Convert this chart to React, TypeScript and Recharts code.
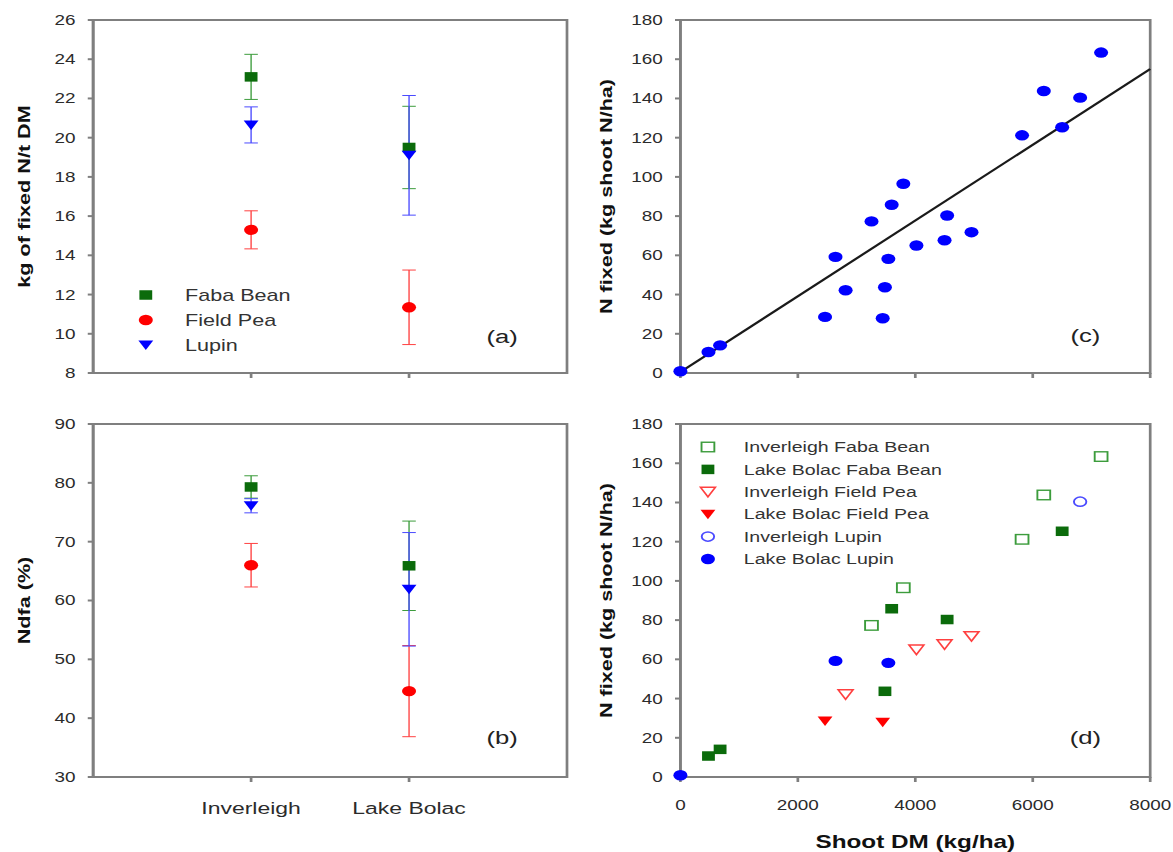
import React from 'react';
import { ScatterChart, Scatter, XAxis, YAxis, ErrorBar, ReferenceArea } from 'recharts';

// the original figure is stretched horizontally, so every panel is drawn narrow and scaled in x
const S = 1.35;
const FONT = '"Liberation Sans", Arial, sans-serif';
const AXIS = '#7f7f7f';
const TXT = '#2b2b2b';
const GREEN = '#0b6b0b';
const GREEN_LIGHT = '#3c9c3c';
const RED = '#ff0000';
const RED_LIGHT = '#ff4040';
const BLUE = '#0000ff';
const BLUE_LIGHT = '#4a4aff';

// sites on the x axis of (a) and (b)
const sites = ['Inverleigh', 'Lake Bolac'];
const siteX = [1, 2];

// (a) kg of fixed N / t DM (mean, error)
const fabaNperT = [23.1, 19.5];
const fabaNperTErr = [1.15, 2.1];
const peaNperT = [15.3, 11.35];
const peaNperTErr = [0.97, 1.9];
const lupinNperT = [20.65, 19.1];
const lupinNperTErr = [0.92, 3.05];

// (b) Ndfa % (mean, error)
const fabaNdfa = [79.3, 65.9];
const fabaNdfaErr = [1.9, 7.6];
const peaNdfa = [66.0, 44.6];
const peaNdfaErr = [3.7, 7.75];
const lupinNdfa = [76.1, 61.9];
const lupinNdfaErr = [1.2, 9.65];

// (c) and (d) shoot DM (kg/ha) vs N fixed (kg shoot N/ha)
const invFabaDM = [7164, 6188, 5818, 3796, 3254];
const invFabaN = [163.4, 143.8, 121.2, 96.5, 77.3];
const lbFabaDM = [6501, 4542, 3598, 3483, 676, 478];
const lbFabaN = [125.3, 80.3, 85.8, 43.7, 14.1, 10.7];
const invPeaDM = [4957, 4498, 4019, 2813];
const invPeaN = [71.8, 67.7, 65.0, 42.2];
const lbPeaDM = [2463, 3445];
const lbPeaN = [28.6, 27.9];
const invLupinDM = [6807];
const invLupinN = [140.4];
const lbLupinDM = [2641, 3541, 0];
const lbLupinN = [59.2, 58.2, 0.9];

// regression line in (c), end points
const fitDM = [0, 8000];
const fitN = [0.5, 155];

const ticksA = [8, 10, 12, 14, 16, 18, 20, 22, 24, 26];
const ticksB = [30, 40, 50, 60, 70, 80, 90];
const ticksN = [0, 20, 40, 60, 80, 100, 120, 140, 160, 180];
const ticksDM = [0, 2000, 4000, 6000, 8000];

const siteRows = (vals: number[], errs: number[]) =>
  vals.map((v, i) => ({ x: siteX[i], y: v, err: errs[i] }));
const xyRows = (xs: number[], ys: number[]) => xs.map((x, i) => ({ x, y: ys[i] }));

type Kind = 'square' | 'circle' | 'triangle';

const Mark = ({ cx, cy, kind, color, open }: { cx: number; cy: number; kind: Kind; color: string; open?: boolean }) => {
  const fill = open ? '#ffffff' : color;
  const sw = open ? 1.4 : 0;
  if (kind === 'square') return <rect x={cx - 4.75} y={cy - 4.75} width={9.5} height={9.5} fill={fill} stroke={color} strokeWidth={sw} />;
  if (kind === 'circle') return <circle cx={cx} cy={cy} r={open ? 4.6 : 5.2} fill={fill} stroke={color} strokeWidth={sw} />;
  return <polygon points={`${cx - 5.5},${cy - 4.5} ${cx + 5.5},${cy - 4.5} ${cx},${cy + 5}`} fill={fill} stroke={color} strokeWidth={sw} />;
};

const shapeOf = (kind: Kind, color: string, open?: boolean) => (p: any) =>
  <Mark cx={p.cx} cy={p.cy} kind={kind} color={color} open={open} />;

const yTitle = (text: string, dx: number) => (p: any) => {
  const vb = p.viewBox;
  const cx = vb.x + dx;
  const cy = vb.y + vb.height / 2;
  return (
    <text transform={`translate(${cx},${cy}) rotate(-90) scale(${S},${1 / S})`} textAnchor="middle" dominantBaseline="central"
      fontFamily={FONT} fontWeight="bold" fontSize={16} fill="#111">{text}</text>
  );
};

const xTitle = (text: string, dy: number) => (p: any) => {
  const vb = p.viewBox;
  return (
    <text x={vb.x + vb.width / 2} y={vb.y + dy} textAnchor="middle" fontFamily={FONT} fontWeight="bold" fontSize={18} fill="#111">{text}</text>
  );
};

const legendA = [
  { name: 'Faba Bean', kind: 'square' as Kind, color: GREEN, open: false },
  { name: 'Field Pea', kind: 'circle' as Kind, color: RED, open: false },
  { name: 'Lupin', kind: 'triangle' as Kind, color: BLUE, open: false },
];

const legendD = [
  { name: 'Inverleigh Faba Bean', kind: 'square' as Kind, color: GREEN_LIGHT, open: true },
  { name: 'Lake Bolac Faba Bean', kind: 'square' as Kind, color: GREEN, open: false },
  { name: 'Inverleigh Field Pea', kind: 'triangle' as Kind, color: RED_LIGHT, open: true },
  { name: 'Lake Bolac Field Pea', kind: 'triangle' as Kind, color: RED, open: false },
  { name: 'Inverleigh Lupin', kind: 'circle' as Kind, color: BLUE_LIGHT, open: true },
  { name: 'Lake Bolac Lupin', kind: 'circle' as Kind, color: BLUE, open: false },
];

const LegendBox = ({ items, x, tx, y0, step, fontSize }: any) => (
  <g>
    {items.map((it: any, i: number) => (
      <g key={it.name}>
        <Mark cx={x} cy={y0 + i * step} kind={it.kind} color={it.color} open={it.open} />
        <text x={tx} y={y0 + i * step + fontSize * 0.36} fontFamily={FONT} fontSize={fontSize} fill="#333">{it.name}</text>
      </g>
    ))}
  </g>
);

const Tag = ({ x, y, label }: { x: number; y: number; label: string }) => (
  <text x={x} y={y} textAnchor="middle" fontFamily={FONT} fontSize={19} fill="#222">{label}</text>
);

const tickStyle = { fill: TXT, fontSize: 14, fontFamily: FONT };

const SiteChart = ({ h, top, domain, ticks, title, tag, names, data }: any) => (
  <ScatterChart width={440} height={h} margin={{ top, right: 20, bottom: 0, left: 9 }}>
    <XAxis type="number" dataKey="x" domain={[0, 3]} ticks={siteX} stroke={AXIS} strokeWidth={2} tickSize={5} tickMargin={20}
      height={h - top - 353} tick={{ ...tickStyle, fontSize: 17 }}
      tickFormatter={(v: number) => (names ? sites[siteX.indexOf(v)] : '')} />
    <YAxis type="number" dataKey="y" domain={domain} ticks={ticks} stroke={AXIS} strokeWidth={2} tickSize={4} tickMargin={9}
      width={60} tick={tickStyle} interval={0} label={yTitle(title, 8.8)} />
    <ReferenceArea x1={0} x2={3} y1={domain[0]} y2={domain[1]} fill="none" stroke={AXIS} strokeWidth={2} ifOverflow="visible" />
    <Scatter data={data.faba} shape={shapeOf('square', GREEN)} isAnimationActive={false}>
      <ErrorBar dataKey="err" direction="y" width={5} stroke={GREEN_LIGHT} strokeWidth={1} />
    </Scatter>
    <Scatter data={data.pea} shape={shapeOf('circle', RED)} isAnimationActive={false}>
      <ErrorBar dataKey="err" direction="y" width={5} stroke={RED_LIGHT} strokeWidth={1} />
    </Scatter>
    <Scatter data={data.lupin} shape={shapeOf('triangle', BLUE)} isAnimationActive={false}>
      <ErrorBar dataKey="err" direction="y" width={5} stroke={BLUE_LIGHT} strokeWidth={1} />
    </Scatter>
    {names ? null : <LegendBox items={legendA} x={108} tx={137} y0={295} step={25} fontSize={16} />}
    <Tag x={372} y={tag} label={names ? '(b)' : '(a)'} />
  </ScatterChart>
);

export default function App() {
  const dataA = {
    faba: siteRows(fabaNperT, fabaNperTErr),
    pea: siteRows(peaNperT, peaNperTErr),
    lupin: siteRows(lupinNperT, lupinNperTErr),
  };
  const dataB = {
    faba: siteRows(fabaNdfa, fabaNdfaErr),
    pea: siteRows(peaNdfa, peaNdfaErr),
    lupin: siteRows(lupinNdfa, lupinNdfaErr),
  };
  const invFaba = xyRows(invFabaDM, invFabaN);
  const lbFaba = xyRows(lbFabaDM, lbFabaN);
  const invPea = xyRows(invPeaDM, invPeaN);
  const lbPea = xyRows(lbPeaDM, lbPeaN);
  const invLupin = xyRows(invLupinDM, invLupinN);
  const lbLupin = xyRows(lbLupinDM, lbLupinN);
  const allPoints = [...invFaba, ...lbFaba, ...invPea, ...lbPea, ...invLupin, ...lbLupin];
  const fit = xyRows(fitDM, fitN);

  return (
    <div style={{ position: 'absolute', left: 0, top: 0, width: 1173 / S, height: 852, transform: `scaleX(${S})`, transformOrigin: '0 0', background: '#fff' }}>
      <div style={{ position: 'absolute', left: 0, top: 0 }}>
        <SiteChart h={400} top={20} domain={[8, 26]} ticks={ticksA} title="kg of fixed N/t DM" tag={343} names={false} data={dataA} />
      </div>
      <div style={{ position: 'absolute', left: 0, top: 400 }}>
        <SiteChart h={452} top={24} domain={[30, 90]} ticks={ticksB} title="Ndfa (%)" tag={344} names={true} data={dataB} />
      </div>

      <div style={{ position: 'absolute', left: 440, top: 0 }}>
        <ScatterChart width={428} height={400} margin={{ top: 20, right: 16, bottom: 0, left: 4 }}>
          <XAxis type="number" dataKey="x" domain={[0, 8000]} ticks={ticksDM} stroke={AXIS} strokeWidth={2} tickSize={5}
            height={27} tick={tickStyle} tickFormatter={() => ''} />
          <YAxis type="number" dataKey="y" domain={[0, 180]} ticks={ticksN} stroke={AXIS} strokeWidth={2} tickSize={4} tickMargin={9}
            width={60} tick={tickStyle} interval={0} label={yTitle('N fixed (kg shoot N/ha)', 5.6)} />
          <ReferenceArea x1={0} x2={8000} y1={0} y2={180} fill="none" stroke={AXIS} strokeWidth={2} ifOverflow="visible" />
          <Scatter data={fit} line={{ stroke: '#1a1a1a', strokeWidth: 2 }} shape={() => <g />} isAnimationActive={false} />
          <Scatter data={allPoints} shape={shapeOf('circle', BLUE)} isAnimationActive={false} />
          <Tag x={364} y={342} label="(c)" />
        </ScatterChart>
      </div>

      <div style={{ position: 'absolute', left: 440, top: 400 }}>
        <ScatterChart width={428} height={452} margin={{ top: 24, right: 16, bottom: 0, left: 4 }}>
          <XAxis type="number" dataKey="x" domain={[0, 8000]} ticks={ticksDM} stroke={AXIS} strokeWidth={2} tickSize={5} tickMargin={18}
            height={75} tick={tickStyle} label={xTitle('Shoot DM (kg/ha)', 71.5)} />
          <YAxis type="number" dataKey="y" domain={[0, 180]} ticks={ticksN} stroke={AXIS} strokeWidth={2} tickSize={4} tickMargin={9}
            width={60} tick={tickStyle} interval={0} label={yTitle('N fixed (kg shoot N/ha)', 5.6)} />
          <ReferenceArea x1={0} x2={8000} y1={0} y2={180} fill="none" stroke={AXIS} strokeWidth={2} ifOverflow="visible" />
          <Scatter data={invFaba} shape={shapeOf('square', GREEN_LIGHT, true)} isAnimationActive={false} />
          <Scatter data={lbFaba} shape={shapeOf('square', GREEN)} isAnimationActive={false} />
          <Scatter data={invPea} shape={shapeOf('triangle', RED_LIGHT, true)} isAnimationActive={false} />
          <Scatter data={lbPea} shape={shapeOf('triangle', RED)} isAnimationActive={false} />
          <Scatter data={invLupin} shape={shapeOf('circle', BLUE_LIGHT, true)} isAnimationActive={false} />
          <Scatter data={lbLupin} shape={shapeOf('circle', BLUE)} isAnimationActive={false} />
          <LegendBox items={legendD} x={84.4} tx={111} y0={47} step={22.4} fontSize={14.5} />
          <Tag x={364} y={344} label="(d)" />
        </ScatterChart>
      </div>
    </div>
  );
}
